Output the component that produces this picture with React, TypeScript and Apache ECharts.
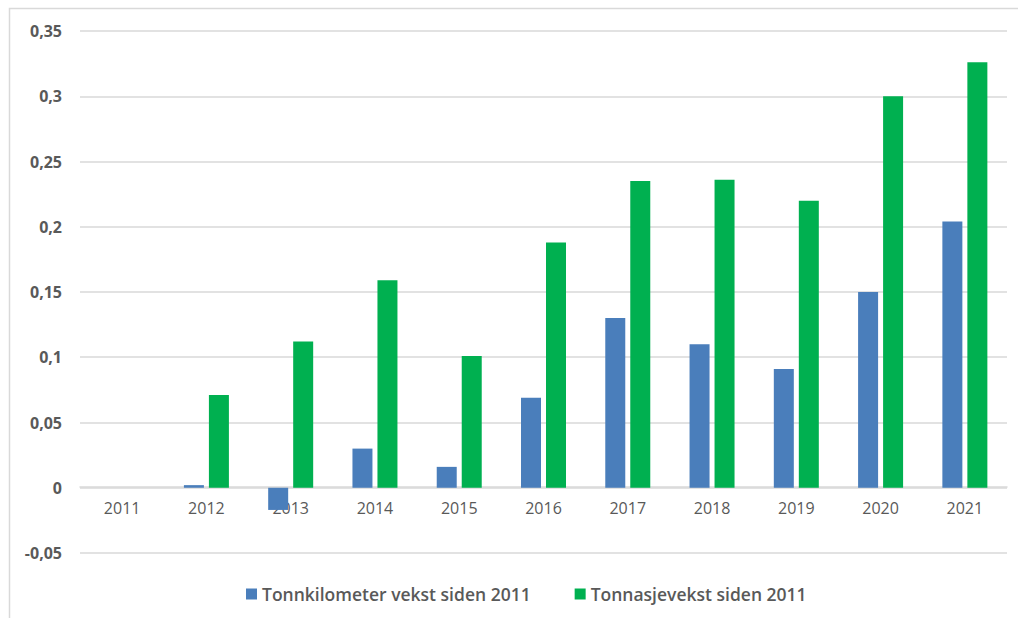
import React, { useEffect, useRef } from "react";
import * as echarts from "echarts";

const categories = ["2011", "2012", "2013", "2014", "2015", "2016", "2017", "2018", "2019", "2020", "2021"];
const tonnkm = [0, 0.002, -0.017, 0.03, 0.016, 0.069, 0.13, 0.11, 0.091, 0.15, 0.204];
const tonnasje = [0, 0.071, 0.112, 0.159, 0.101, 0.188, 0.235, 0.236, 0.22, 0.3, 0.326];
const seriesNames = ["Tonnkilometer vekst siden 2011", "Tonnasjevekst siden 2011"];

export default function App() {
  const ref = useRef<HTMLDivElement>(null);
  useEffect(() => {
    document.body.style.margin = "0";
    const chart = echarts.init(ref.current!, null, { renderer: "svg" });
    chart.setOption({
      animation: false,
      backgroundColor: "#ffffff",
      textStyle: { fontFamily: "Open Sans" },
      graphic: [
        {
          type: "rect",
          shape: { x: 9.5, y: 8.5, width: 1020, height: 620 },
          style: { fill: "none", stroke: "#d9d9d9", lineWidth: 1.5 },
          silent: true,
        },
      ],
      grid: { left: 80, right: 11, top: 31, bottom: 65 },
      legend: {
        left: 241,
        top: 580,
        itemWidth: 11,
        itemHeight: 11,
        itemGap: 44,
        icon: "rect",
        textStyle: { fontFamily: "Open Sans", fontSize: 17.5, fontWeight: 600, color: "#595959", padding: [0, 0, 0, 0] },
        data: seriesNames,
      },
      xAxis: {
        type: "category",
        data: categories,
        offset: -66,
        axisLine: { onZero: false, lineStyle: { color: "#d9d9d9", width: 1.5 } },
        axisTick: { show: false },
        axisLabel: { color: "#595959", fontSize: 16, margin: 13, fontFamily: "Open Sans" },
        z: 0,
      },
      yAxis: {
        type: "value",
        min: -0.05,
        max: 0.35,
        interval: 0.05,
        axisLine: { show: false },
        axisTick: { show: false },
        splitLine: { lineStyle: { color: "#d9d9d9", width: 1.5 } },
        axisLabel: {
          color: "#595959",
          fontSize: 16,
          fontWeight: "bold",
          margin: 18,
          fontFamily: "Open Sans",
          formatter: (v: number) => {
            const r = Math.round(v * 100) / 100;
            return String(r).replace(".", ",");
          },
        },
      },
      series: [
        {
          name: seriesNames[0],
          type: "bar",
          data: tonnkm,
          itemStyle: { color: "#4a7ebb" },
          barWidth: 20,
          barGap: "25%",
        },
        {
          name: seriesNames[1],
          type: "bar",
          data: tonnasje,
          itemStyle: { color: "#00b050" },
          barWidth: 20,
          barGap: "25%",
        },
      ],
    });
    return () => chart.dispose();
  }, []);
  return <div ref={ref} style={{ width: 1018, height: 618 }} />;
}
